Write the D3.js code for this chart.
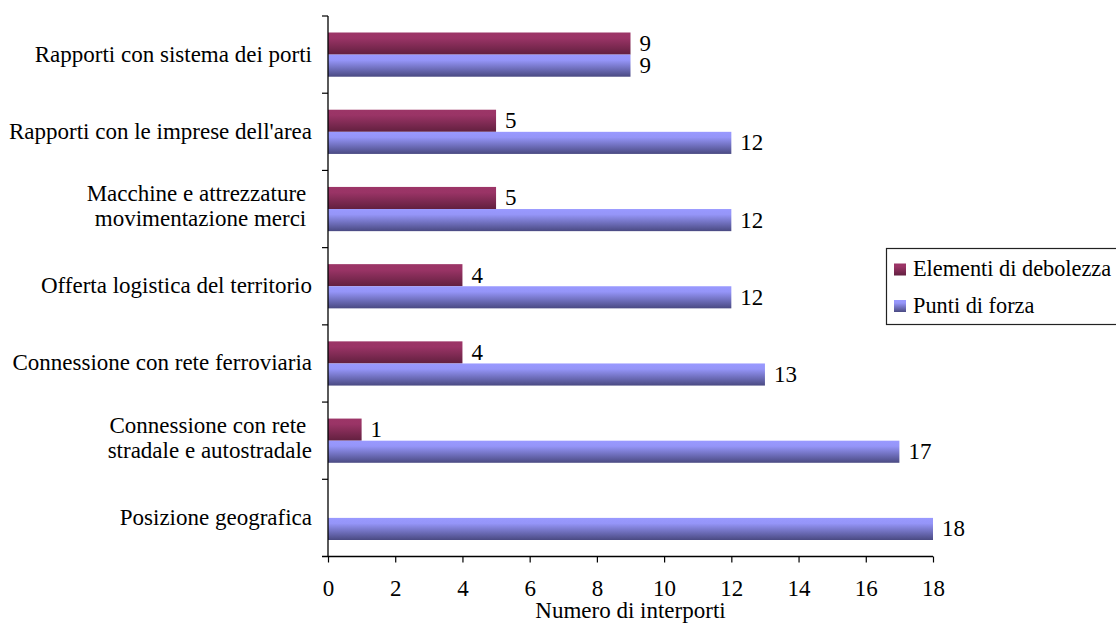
<!DOCTYPE html>
<html>
<head>
<meta charset="utf-8">
<script src="https://cdn.jsdelivr.net/npm/d3@7/dist/d3.min.js"></script>
<style>
  html, body { margin: 0; padding: 0; background: #fff; }
  svg { display: block; }
</style>
</head>
<body>
<svg id="chart" width="1116" height="624"></svg>
<script>
const categories = [
  ["Rapporti con sistema dei porti"],
  ["Rapporti con le imprese dell'area"],
  ["Macchine e attrezzature ", "movimentazione merci "],
  ["Offerta logistica del territorio"],
  ["Connessione con rete ferroviaria"],
  ["Connessione con rete ", "stradale e autostradale"],
  ["Posizione geografica"]
];
const seriesNames = ["Elementi di debolezza", "Punti di forza"];
const debolezza = [9, 5, 5, 4, 4, 1, 0];
const forza = [9, 12, 12, 12, 13, 17, 18];
const xTicks = [0, 2, 4, 6, 8, 10, 12, 14, 16, 18];
const axisTitle = "Numero di interporti";

const FONT = "'Liberation Serif', 'Times New Roman', 'Tinos'";
const svg = d3.select("#chart").attr("font-family", FONT);
const fs = 23;
const pLeft = 328, pRight = 933, pTop = 16, pBottom = 556.5;

const catIdx = categories.map((d, i) => i);
const x = d3.scaleLinear().domain([0, 18]).range([pLeft, pRight]);
const y0 = d3.scaleBand().domain(catIdx).range([pTop, pBottom]).padding(0);
const y1 = d3.scaleBand().domain([0, 1]).range([16.5, y0.bandwidth() - 16.5]).padding(0);

const defs = svg.append("defs");
const grads = [
  { id: "gM", c1: "#9c3567", c2: "#9a3466", c3: "#62203f" },
  { id: "gB", c1: "#9999ff", c2: "#9595f8", c3: "#4a4a82" }
];
grads.forEach(g => {
  const lg = defs.append("linearGradient").attr("id", g.id)
    .attr("x1", 0).attr("y1", 0).attr("x2", 0).attr("y2", 1);
  lg.append("stop").attr("offset", "0%").attr("stop-color", g.c1);
  lg.append("stop").attr("offset", "25%").attr("stop-color", g.c2);
  lg.append("stop").attr("offset", "100%").attr("stop-color", g.c3);
});
const fills = ["url(#gM)", "url(#gB)"];

const data = catIdx.map(i => [debolezza[i], forza[i]]);

// bars
const groups = svg.append("g").selectAll("g").data(data).join("g")
  .attr("transform", (d, i) => `translate(0,${y0(i)})`);
groups.selectAll("rect").data(d => d.map((v, s) => ({ v, s })).filter(o => o.v > 0)).join("rect")
  .attr("x", x(0))
  .attr("y", o => y1(o.s))
  .attr("width", o => x(o.v) - x(0))
  .attr("height", y1.bandwidth())
  .attr("fill", o => fills[o.s]);
groups.selectAll("text.val").data(d => d.map((v, s) => ({ v, s })).filter(o => o.v > 0)).join("text")
  .attr("class", "val")
  .attr("x", o => x(o.v) + 9)
  .attr("y", o => y1(o.s) + y1.bandwidth() / 2 + 7.5)
  .attr("font-size", fs)
  .attr("font-family", FONT)
  .attr("fill", "#000")
  .text(o => o.v);

// x axis
const xAxis = svg.append("g").attr("transform", `translate(0,${pBottom})`)
  .call(d3.axisBottom(x).tickValues(xTicks).tickSize(6).tickSizeOuter(0).tickPadding(0));
xAxis.attr("font-family", FONT);
xAxis.select(".domain").remove();
xAxis.append("line").attr("x1", pLeft - 6).attr("x2", pRight).attr("stroke", "#000").attr("stroke-width", 1.3);
xAxis.selectAll(".tick line").attr("stroke", "#000").attr("stroke-width", 1.2);
xAxis.selectAll(".tick text").attr("font-size", fs).attr("font-family", FONT)
  .attr("fill", "#000").attr("dy", null).attr("y", 39.5);

// y axis
const yg = svg.append("g");
yg.append("line").attr("x1", pLeft).attr("x2", pLeft).attr("y1", pTop).attr("y2", pBottom)
  .attr("stroke", "#000").attr("stroke-width", 1.3);
const boundaries = catIdx.map(i => y0(i));
yg.selectAll("line.tk").data(boundaries).join("line").attr("class", "tk")
  .attr("x1", pLeft - 6).attr("x2", pLeft).attr("y1", d => d).attr("y2", d => d)
  .attr("stroke", "#000").attr("stroke-width", 1.2);

// category labels
const lab = svg.append("g").selectAll("text").data(categories).join("text")
  .attr("text-anchor", "end")
  .attr("font-size", fs)
  .attr("font-family", FONT)
  .attr("fill", "#000")
  .style("white-space", "pre");
lab.each(function (lines, i) {
  const c = y0(i) + y0.bandwidth() / 2;
  const t = d3.select(this);
  if (lines.length === 1) {
    t.append("tspan").attr("x", pLeft - 16).attr("y", c + 7).text(lines[0]);
  } else {
    t.append("tspan").attr("x", pLeft - 16).attr("y", c - 8).text(lines[0]);
    t.append("tspan").attr("x", pLeft - 16).attr("y", c + 17).text(lines[1]);
  }
});

// axis title
svg.append("text").attr("x", (pLeft + pRight) / 2).attr("y", 618)
  .attr("text-anchor", "middle").attr("font-size", fs).attr("font-family", FONT)
  .attr("fill", "#000").text(axisTitle);

// legend
const lgd = svg.append("g");
lgd.append("rect").attr("x", 886.5).attr("y", 248.5).attr("width", 240).attr("height", 76)
  .attr("fill", "#fff").attr("stroke", "#222").attr("stroke-width", 1.2);
const rows = lgd.selectAll("g").data(seriesNames).join("g")
  .attr("transform", (d, i) => `translate(0,${i * 36.5})`);
rows.append("rect").attr("x", 894).attr("y", 263.5).attr("width", 12).attr("height", 12)
  .attr("fill", (d, i) => fills[i]);
rows.append("text").attr("x", 913).attr("y", 276).attr("font-size", 22.3).attr("font-family", FONT)
  .attr("fill", "#000").text(d => d);
</script>
</body>
</html>
